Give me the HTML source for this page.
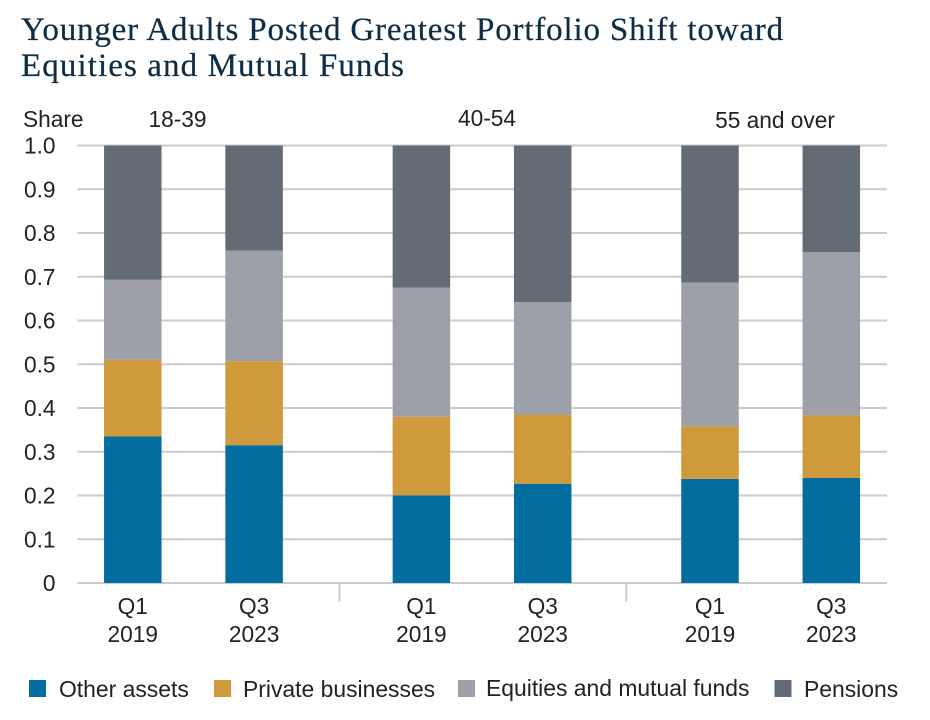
<!DOCTYPE html>
<html lang="en">
<head>
<meta charset="utf-8">
<title>Younger Adults Posted Greatest Portfolio Shift toward Equities and Mutual Funds</title>
<style>
html,body{margin:0;padding:0;background:#fff;width:930px;height:720px;overflow:hidden}
#chart{position:absolute;left:0;top:0;width:930px;height:720px;display:block}
text{font-family:"Liberation Sans",sans-serif;fill:#222;font-size:22.7px}
.legend-text{font-size:22.9px}
.title{font-family:"Liberation Serif",serif;fill:#0f2d45;font-size:33px;stroke:#0f2d45;stroke-width:.25px}
</style>
</head>
<body>
<svg id="chart" xmlns="http://www.w3.org/2000/svg" width="930" height="720" viewBox="0 0 930 720">
<text class="title" x="21" y="40" style="letter-spacing:.83px">Younger Adults Posted Greatest Portfolio Shift toward</text>
<text class="title" x="21" y="76" style="letter-spacing:1.1px">Equities and Mutual Funds</text>
<text x="23" y="127">Share</text>
</svg>
<script>
const ageGroups = ['18-39', '40-54', '55 and over'];
const periodsQ = ['Q1', 'Q3'];
const periodsY = ['2019', '2023'];
const seriesNames = ['Other assets', 'Private businesses', 'Equities and mutual funds', 'Pensions'];
const otherAssets = [0.335, 0.315, 0.200, 0.227, 0.238, 0.240];
const privateBusinesses = [0.175, 0.192, 0.180, 0.158, 0.120, 0.143];
const equitiesFunds = [0.183, 0.253, 0.295, 0.257, 0.329, 0.373];
const pensions = [0.307, 0.240, 0.325, 0.358, 0.313, 0.244];
const yTicks = [0, 0.1, 0.2, 0.3, 0.4, 0.5, 0.6, 0.7, 0.8, 0.9, 1.0];
const yTickLabels = ['0', '0.1', '0.2', '0.3', '0.4', '0.5', '0.6', '0.7', '0.8', '0.9', '1.0'];

const svg = document.getElementById('chart');
const NS = 'http://www.w3.org/2000/svg';
function mk(tag, attrs, text) {
  const el = document.createElementNS(NS, tag);
  for (const k in attrs) el.setAttribute(k, attrs[k]);
  if (text !== undefined) el.textContent = text;
  svg.appendChild(el);
  return el;
}
const yScale = v => 583 - v * 437.5;
const groupCenter = g => 193.3 + g * 288.6;
const barCenter = i => groupCenter(Math.floor(i / 2)) + (i % 2 === 0 ? -60.5 : 60.8);
const BAR_W = 57.5;
const colors = ['#046d9f', '#cf9a3c', '#9da0a8', '#636b75'];
const seriesValues = [otherAssets, privateBusinesses, equitiesFunds, pensions];

yTicks.forEach((t, i) => {
  const grid = mk('line', {x1: 77.5, x2: 887, y1: yScale(t), y2: yScale(t), stroke: '#cbcbcb', 'stroke-width': 2});
  
  
  const lab = mk('text', {x: 55.5, y: yScale(t) + 8, 'text-anchor': 'end'}, yTickLabels[i]);
  
  
});

const separatorX = [339.5, 626.3];
separatorX.forEach(x => {
  const sep = mk('line', {x1: x, x2: x, y1: yScale(0), y2: yScale(0) + 18.5, stroke: '#cbcbcb', 'stroke-width': 2});
  
  
});

otherAssets.forEach((_, i) => {
  let acc = 0;
  seriesValues.forEach((vals, s) => {
    const top = yScale(acc + vals[i]);
    const bottom = yScale(acc);
    const r = mk('rect', {x: barCenter(i) - BAR_W / 2, y: top, width: BAR_W, height: bottom - top, fill: colors[s]});
    
    
    acc += vals[i];
  });
  const q = mk('text', {x: barCenter(i), y: 614, 'text-anchor': 'middle'}, periodsQ[i % 2]);
  
  
  const yr = mk('text', {x: barCenter(i), y: 642, 'text-anchor': 'middle'}, periodsY[i % 2]);
  
  
});

const groupLabelX = [177.5, 487, 775];
const groupLabelY = [127, 126, 128];
ageGroups.forEach((a, g) => {
  const t = mk('text', {x: groupLabelX[g], y: groupLabelY[g], 'text-anchor': 'middle'}, a);
  
  
});

const legendSwatchX = [29, 214, 458, 774.5];
const legendTextX = [59, 243, 486, 804];
const legendTextY = [697, 697, 696, 697];
seriesNames.forEach((n, s) => {
  const sw = mk('rect', {x: legendSwatchX[s], y: 680, width: 17, height: 17, fill: colors[s]});
  
  
  const t = mk('text', {x: legendTextX[s], y: legendTextY[s], class: 'legend-text'}, n);
  
  
});
</script>
</body>
</html>
